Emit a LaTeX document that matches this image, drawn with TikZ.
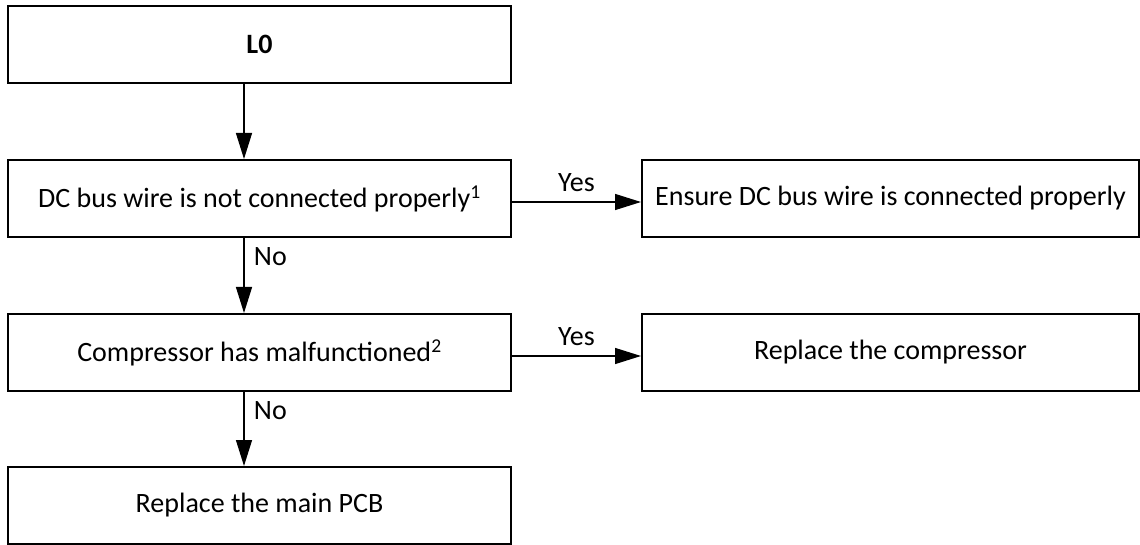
\documentclass[tikz,border=0pt]{standalone}
\usepackage{fontspec}
\setmainfont{Carlito}
\usetikzlibrary{arrows.meta}
\tikzset{
  box/.style={draw, line width=2pt, minimum width=503pt, minimum height=77pt, inner sep=0pt},
  wbox/.style={box, minimum width=497pt},
  arr/.style={-{Triangle[length=26pt,width=16pt]}, line width=1.3pt},
  yes/.style={yshift=6pt},
  no/.style={near start, xshift=6pt},
}
\begin{document}
\begin{tikzpicture}[x=1pt, y=-1pt, auto, font=\fontsize{28}{32}\selectfont]
      \useasboundingbox (0,0) rectangle (1140,545);
      \node[box] (A) at (259.5, 44.5) {\textbf{L0}};
      \node[box] (B) at (259.5, 198.5) {DC bus wire is not connected properly\textsuperscript{1}};
      \node[wbox] (C) at (890.5, 198.5) {Ensure DC bus wire is connected properly};
      \node[box] (D) at (259.5, 352.5) {Compressor has malfunctioned\textsuperscript{2}};
      \node[wbox] (E) at (890.5, 352.5) {Replace the compressor};
      \node[box] (F) at (259.5, 505.5) {Replace the main PCB};
      \coordinate (X) at (244, 0);
      \draw[arr] (A.south -| X) to (B.north -| X);
      \draw[arr] (B.south -| X) to node[no] {No} (D.north -| X);
      \draw[arr] (D.south -| X) to node[no] {No} (F.north -| X);
      \draw[arr] ([yshift=-3.5pt]B.east) to node[yes] {Yes} ([yshift=-3.5pt]C.west);
      \draw[arr] ([yshift=-3.5pt]D.east) to node[yes] {Yes} ([yshift=-3.5pt]E.west);
    \end{tikzpicture}
\end{document}
